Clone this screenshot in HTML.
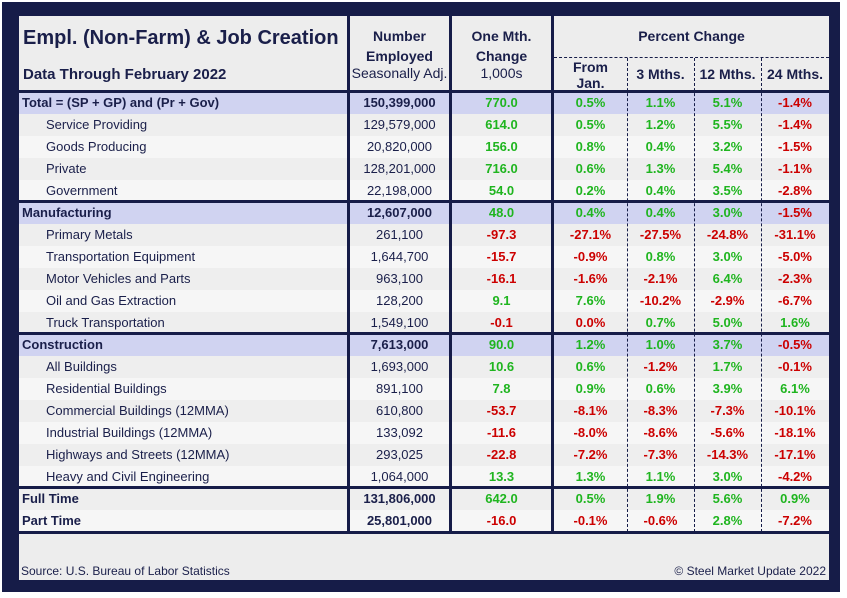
<!DOCTYPE html>
<html><head><meta charset="utf-8"><style>
*{margin:0;padding:0;box-sizing:border-box}
body{width:847px;height:598px;background:#fff;position:relative;overflow:hidden;font-family:"Liberation Sans",Arial,sans-serif;color:#1a1f4a}
#frame{position:absolute;left:2px;top:2px;width:838px;height:590px;background:#161c48}
.a{position:absolute}
.hdr{background:#ededed}
.r{position:absolute;left:19px;width:810px;height:22px;font-size:13px;line-height:22px}
.r span{position:absolute;top:0;height:22px;text-align:center}
.c0{left:0;width:328px;text-align:left!important;padding-left:27px}
.c1{left:331px;width:99px}
.c2{left:433px;width:99px}
.c3{left:535px;width:73px}
.c4{left:608px;width:67px}
.c5{left:675px;width:67px}
.c6{left:742px;width:68px}
.b{font-weight:bold}
.b .c0{padding-left:3px}
.hl{background:#d0d3f1}
.e{background:#eeeeee}
.o{background:#f6f6f6}
.g{color:#1fb51f;font-weight:bold}
.d{color:#cc0000;font-weight:bold}
.vl{position:absolute;width:3px;background:#161c48}
.dl{position:absolute;width:0;border-left:1px dashed #161c48}
.hln{position:absolute;left:17px;width:813px;height:3px;background:#161c48}
</style></head><body>
<div id="frame"></div>
<!-- header -->
<div class="a hdr" style="left:19px;top:16px;width:810px;height:75px"></div>
<div class="a" style="left:23px;top:27px;font-size:20px;font-weight:bold">Empl. (Non-Farm) &amp; Job Creation</div>
<div class="a" style="left:23px;top:66px;font-size:15px;font-weight:bold">Data Through February 2022</div>
<div class="a" style="left:350px;top:26px;width:99px;text-align:center;font-size:14px;font-weight:bold;line-height:20px">Number<br>Employed</div>
<div class="a" style="left:350px;top:65px;width:99px;text-align:center;font-size:14px">Seasonally Adj.</div>
<div class="a" style="left:452px;top:26px;width:99px;text-align:center;font-size:14px;font-weight:bold;line-height:20px">One Mth.<br>Change</div>
<div class="a" style="left:452px;top:65px;width:99px;text-align:center;font-size:14px">1,000s</div>
<div class="a" style="left:554px;top:28px;width:275px;text-align:center;font-size:14px;font-weight:bold">Percent Change</div>
<div class="a" style="left:554px;top:57px;width:275px;border-top:1px dashed #161c48"></div>
<div class="a" style="left:554px;top:59px;width:73px;text-align:center;font-size:14px;font-weight:bold;line-height:16px">From<br>Jan.</div>
<div class="a" style="left:627px;top:66px;width:67px;text-align:center;font-size:14px;font-weight:bold">3 Mths.</div>
<div class="a" style="left:694px;top:66px;width:67px;text-align:center;font-size:14px;font-weight:bold">12 Mths.</div>
<div class="a" style="left:761px;top:66px;width:68px;text-align:center;font-size:14px;font-weight:bold">24 Mths.</div>

<div class="r b hl" style="top:92px"><span class="c0">Total = (SP + GP) and (Pr + Gov)</span><span class="c1">150,399,000</span><span class="c2 g">770.0</span><span class="c3 g">0.5%</span><span class="c4 g">1.1%</span><span class="c5 g">5.1%</span><span class="c6 d">-1.4%</span></div>
<div class="r e" style="top:114px"><span class="c0">Service Providing</span><span class="c1">129,579,000</span><span class="c2 g">614.0</span><span class="c3 g">0.5%</span><span class="c4 g">1.2%</span><span class="c5 g">5.5%</span><span class="c6 d">-1.4%</span></div>
<div class="r o" style="top:136px"><span class="c0">Goods Producing</span><span class="c1">20,820,000</span><span class="c2 g">156.0</span><span class="c3 g">0.8%</span><span class="c4 g">0.4%</span><span class="c5 g">3.2%</span><span class="c6 d">-1.5%</span></div>
<div class="r e" style="top:158px"><span class="c0">Private</span><span class="c1">128,201,000</span><span class="c2 g">716.0</span><span class="c3 g">0.6%</span><span class="c4 g">1.3%</span><span class="c5 g">5.4%</span><span class="c6 d">-1.1%</span></div>
<div class="r o" style="top:180px"><span class="c0">Government</span><span class="c1">22,198,000</span><span class="c2 g">54.0</span><span class="c3 g">0.2%</span><span class="c4 g">0.4%</span><span class="c5 g">3.5%</span><span class="c6 d">-2.8%</span></div>

<div class="r b hl" style="top:202px"><span class="c0">Manufacturing</span><span class="c1">12,607,000</span><span class="c2 g">48.0</span><span class="c3 g">0.4%</span><span class="c4 g">0.4%</span><span class="c5 g">3.0%</span><span class="c6 d">-1.5%</span></div>
<div class="r e" style="top:224px"><span class="c0">Primary Metals</span><span class="c1">261,100</span><span class="c2 d">-97.3</span><span class="c3 d">-27.1%</span><span class="c4 d">-27.5%</span><span class="c5 d">-24.8%</span><span class="c6 d">-31.1%</span></div>
<div class="r o" style="top:246px"><span class="c0">Transportation Equipment</span><span class="c1">1,644,700</span><span class="c2 d">-15.7</span><span class="c3 d">-0.9%</span><span class="c4 g">0.8%</span><span class="c5 g">3.0%</span><span class="c6 d">-5.0%</span></div>
<div class="r e" style="top:268px"><span class="c0">Motor Vehicles and Parts</span><span class="c1">963,100</span><span class="c2 d">-16.1</span><span class="c3 d">-1.6%</span><span class="c4 d">-2.1%</span><span class="c5 g">6.4%</span><span class="c6 d">-2.3%</span></div>
<div class="r o" style="top:290px"><span class="c0">Oil and Gas Extraction</span><span class="c1">128,200</span><span class="c2 g">9.1</span><span class="c3 g">7.6%</span><span class="c4 d">-10.2%</span><span class="c5 d">-2.9%</span><span class="c6 d">-6.7%</span></div>
<div class="r e" style="top:312px"><span class="c0">Truck Transportation</span><span class="c1">1,549,100</span><span class="c2 d">-0.1</span><span class="c3 d">0.0%</span><span class="c4 g">0.7%</span><span class="c5 g">5.0%</span><span class="c6 g">1.6%</span></div>

<div class="r b hl" style="top:334px"><span class="c0">Construction</span><span class="c1">7,613,000</span><span class="c2 g">90.0</span><span class="c3 g">1.2%</span><span class="c4 g">1.0%</span><span class="c5 g">3.7%</span><span class="c6 d">-0.5%</span></div>
<div class="r e" style="top:356px"><span class="c0">All Buildings</span><span class="c1">1,693,000</span><span class="c2 g">10.6</span><span class="c3 g">0.6%</span><span class="c4 d">-1.2%</span><span class="c5 g">1.7%</span><span class="c6 d">-0.1%</span></div>
<div class="r o" style="top:378px"><span class="c0">Residential Buildings</span><span class="c1">891,100</span><span class="c2 g">7.8</span><span class="c3 g">0.9%</span><span class="c4 g">0.6%</span><span class="c5 g">3.9%</span><span class="c6 g">6.1%</span></div>
<div class="r e" style="top:400px"><span class="c0">Commercial Buildings (12MMA)</span><span class="c1">610,800</span><span class="c2 d">-53.7</span><span class="c3 d">-8.1%</span><span class="c4 d">-8.3%</span><span class="c5 d">-7.3%</span><span class="c6 d">-10.1%</span></div>
<div class="r o" style="top:422px"><span class="c0">Industrial Buildings (12MMA)</span><span class="c1">133,092</span><span class="c2 d">-11.6</span><span class="c3 d">-8.0%</span><span class="c4 d">-8.6%</span><span class="c5 d">-5.6%</span><span class="c6 d">-18.1%</span></div>
<div class="r e" style="top:444px"><span class="c0">Highways and Streets (12MMA)</span><span class="c1">293,025</span><span class="c2 d">-22.8</span><span class="c3 d">-7.2%</span><span class="c4 d">-7.3%</span><span class="c5 d">-14.3%</span><span class="c6 d">-17.1%</span></div>
<div class="r o" style="top:466px"><span class="c0">Heavy and Civil Engineering</span><span class="c1">1,064,000</span><span class="c2 g">13.3</span><span class="c3 g">1.3%</span><span class="c4 g">1.1%</span><span class="c5 g">3.0%</span><span class="c6 d">-4.2%</span></div>

<div class="r b e" style="top:488px"><span class="c0">Full Time</span><span class="c1">131,806,000</span><span class="c2 g">642.0</span><span class="c3 g">0.5%</span><span class="c4 g">1.9%</span><span class="c5 g">5.6%</span><span class="c6 g">0.9%</span></div>
<div class="r b o" style="top:510px"><span class="c0">Part Time</span><span class="c1">25,801,000</span><span class="c2 d">-16.0</span><span class="c3 d">-0.1%</span><span class="c4 d">-0.6%</span><span class="c5 g">2.8%</span><span class="c6 d">-7.2%</span></div>

<!-- footer -->
<div class="a hdr" style="left:19px;top:534px;width:810px;height:46px"></div>
<div class="a" style="left:21px;top:564px;font-size:12px">Source: U.S. Bureau of Labor Statistics</div>
<div class="a" style="left:560px;top:564px;width:266px;text-align:right;font-size:12px">© Steel Market Update 2022</div>

<!-- lines -->
<div class="vl" style="left:347px;top:16px;height:516px"></div>
<div class="vl" style="left:449px;top:16px;height:516px"></div>
<div class="vl" style="left:551px;top:16px;height:516px"></div>
<div class="dl" style="left:627px;top:58px;height:474px"></div>
<div class="dl" style="left:694px;top:58px;height:474px"></div>
<div class="dl" style="left:761px;top:58px;height:474px"></div>
<div class="hln" style="top:90px"></div>
<div class="hln" style="top:200px"></div>
<div class="hln" style="top:332px"></div>
<div class="hln" style="top:486px"></div>
<div class="hln" style="top:531px"></div>
</body></html>
